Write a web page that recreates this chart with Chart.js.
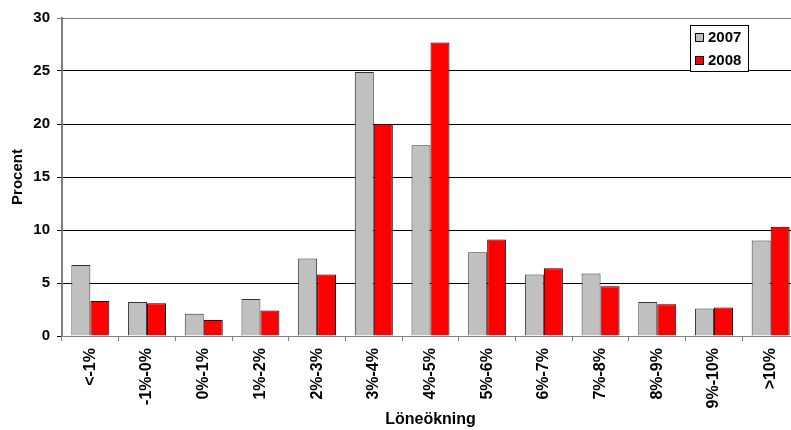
<!DOCTYPE html>
<html>
<head>
<meta charset="utf-8">
<script src="https://cdn.jsdelivr.net/npm/chart.js@4/dist/chart.umd.min.js"></script>
<style>
  html, body { margin: 0; padding: 0; background: #fff; overflow: hidden; }
  #wrap { width: 791px; height: 430px; overflow: hidden; }
  #box { width: 799px; height: 430px; }
</style>
</head>
<body>
<div id="wrap"><div id="box"><canvas id="salaryChart"></canvas></div></div>
<script>
const categories = ["<-1%", "-1%-0%", "0%-1%", "1%-2%", "2%-3%", "3%-4%", "4%-5%", "5%-6%", "6%-7%", "7%-8%", "8%-9%", "9%-10%", ">10%"];
const values2007 = [6.7, 3.2, 2.1, 3.5, 7.3, 24.9, 18.0, 7.9, 5.8, 5.9, 3.2, 2.6, 9.0];
const values2008 = [3.3, 3.1, 1.5, 2.4, 5.8, 20.0, 27.7, 9.1, 6.4, 4.7, 3.0, 2.7, 10.3];
const seriesLabels = ["2007", "2008"];
const seriesColors = ["#c0c0c0", "#ff0000"];

const font = { family: "Arial, 'Liberation Sans', sans-serif", size: 15, weight: "bold" };
const xFont = { family: "Arial, 'Liberation Sans', sans-serif", size: 16, weight: "bold" };

// legend box drawn inside the plot, like the original
const boxLegend = {
  id: "boxLegend",
  afterDraw(c) {
    const ctx = c.ctx;
    ctx.save();
    ctx.fillStyle = "#fff";
    ctx.fillRect(690, 25, 58, 46);
    ctx.strokeStyle = "#000";
    ctx.lineWidth = 1;
    ctx.strokeRect(690.5, 25.5, 58, 46);
    ctx.font = "bold 15px Arial, 'Liberation Sans', sans-serif";
    ctx.textBaseline = "middle";
    c.data.datasets.forEach((ds, i) => {
      const y = 37 + i * 23;
      ctx.fillStyle = ds.backgroundColor;
      ctx.fillRect(695, y - 4, 8, 8);
      ctx.strokeStyle = "#000";
      ctx.strokeRect(695.5, y - 3.5, 8, 8);
      ctx.fillStyle = "#000";
      ctx.fillText(ds.label, 708, y + 1);
    });
    ctx.restore();
  }
};

new Chart(document.getElementById("salaryChart"), {
  type: "bar",
  data: {
    labels: categories,
    datasets: [
      { label: seriesLabels[0], data: values2007, backgroundColor: seriesColors[0], borderColor: "#333", borderWidth: 1 },
      { label: seriesLabels[1], data: values2008, backgroundColor: seriesColors[1], borderColor: "#000", borderWidth: 1 }
    ]
  },
  options: {
    responsive: true,
    maintainAspectRatio: false,
    animation: false,
    datasets: { bar: { categoryPercentage: 0.67, barPercentage: 1 } },
    layout: { padding: { top: 18, right: 0, bottom: 0, left: 0 } },
    plugins: { legend: { display: false }, tooltip: { enabled: false } },
    scales: {
      x: {
        afterFit: (s) => { s.height = 94; },
        grid: { offset: true, drawOnChartArea: false, tickLength: 5, color: "#808080" },
        border: { color: "#808080", width: 1 },
        ticks: { color: "#000", font: xFont, minRotation: 90, maxRotation: 90, padding: 7, autoSkip: false },
        title: { display: true, text: "Löneökning", color: "#000", font: xFont, padding: { top: 0, bottom: 1 } }
      },
      y: {
        min: 0,
        max: 30,
        afterFit: (s) => { s.width = 62; },
        grid: {
          tickLength: 5,
          color: (ctx) => (ctx.tick && ctx.tick.value === 30 ? "#808080" : "#000")
        },
        border: { color: "#808080", width: 2 },
        ticks: { stepSize: 5, color: "#000", font: font, padding: 7 },
        title: { display: true, text: "Procent", color: "#000", font: font, padding: { top: 9, bottom: 0 } }
      }
    }
  },
  plugins: [boxLegend]
});
</script>
</body>
</html>
